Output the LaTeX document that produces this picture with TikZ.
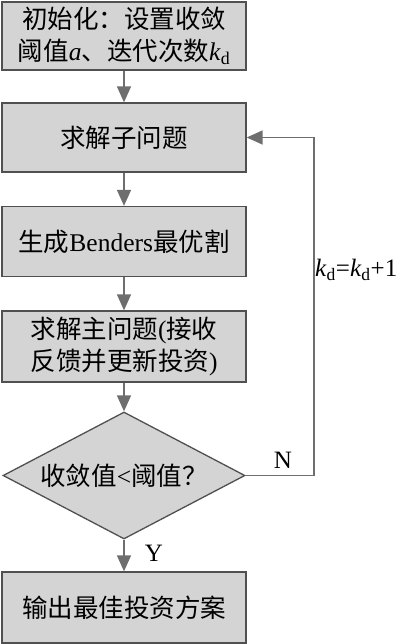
\documentclass[tikz,border=0pt]{standalone}
\usepackage{fontspec}
\setmainfont{Liberation Serif}
\newfontfamily\cjk{Noto Sans CJK SC}
\usetikzlibrary{shapes.geometric,arrows.meta}
\definecolor{boxfill}{HTML}{D4D4D4}
\definecolor{boxline}{HTML}{505050}
\definecolor{arrowc}{HTML}{6E6E6E}
\tikzset{
  x=1pt, y=1pt,
  stepbox/.style={draw=boxline, fill=boxfill, line width=1.3pt, minimum width=244pt, inner sep=0pt, align=center, font=\fontsize{25.5}{32}\selectfont},
  decision/.style={diamond, draw=boxline, fill=boxfill, line width=1.3pt, inner sep=0pt, minimum width=242pt, minimum height=127pt},
  flow/.style={draw=arrowc, line width=1.5pt, -{Triangle[length=16pt,width=14pt]}},
  lbl/.style={font=\fontsize{25}{28}\selectfont, inner sep=0pt}
}
\begin{document}
\begin{tikzpicture}
\useasboundingbox (0,0) rectangle (400,-644);
\node[stepbox, minimum height=68pt] (b1) at (124,-36) {{\cjk 初始化：设置收敛}\\{\cjk 阈值}\textit{a}{\cjk 、迭代次数}\textit{k}\textsubscript{d}};
\node[stepbox, minimum height=69pt] (b2) at (124,-137.5) {\cjk 求解子问题};
\node[stepbox, minimum height=70pt] (b3) at (124,-241.5) {{\cjk 生成}Benders{\cjk 最优割}};
\node[stepbox, minimum height=71pt] (b4) at (124,-346.5) {{\cjk 求解主问题}({\cjk 接收}\\{\cjk 反馈并更新投资})};
\node[decision] (d) at (124,-475.5) {};
\node[font=\fontsize{25.5}{32}\selectfont, inner sep=0pt] (dt) at (d.center) {{\cjk 收敛值}<{\cjk 阈值？}};
\node[stepbox, minimum height=71pt] (b5) at (124,-607.5) {\cjk 输出最佳投资方案};
\coordinate (c1) at (314,-475.5);
\draw[flow] (b1) -- (b2);
\draw[flow] (b2) -- (b3);
\draw[flow] (b3) -- (b4);
\draw[flow] (b4) -- (d);
\draw[flow] (d) -- (b5);
\draw[flow] (d.east) -- (c1) |- (b2.east);
\node[lbl] (ny) at (154,-553) {Y};
\node[lbl] (nn) at (283,-460) {N};
\node[lbl, anchor=west] (inc) at (315,-270) {\textit{k}\textsubscript{d}=\textit{k}\textsubscript{d}+1};
\end{tikzpicture}
\end{document}
